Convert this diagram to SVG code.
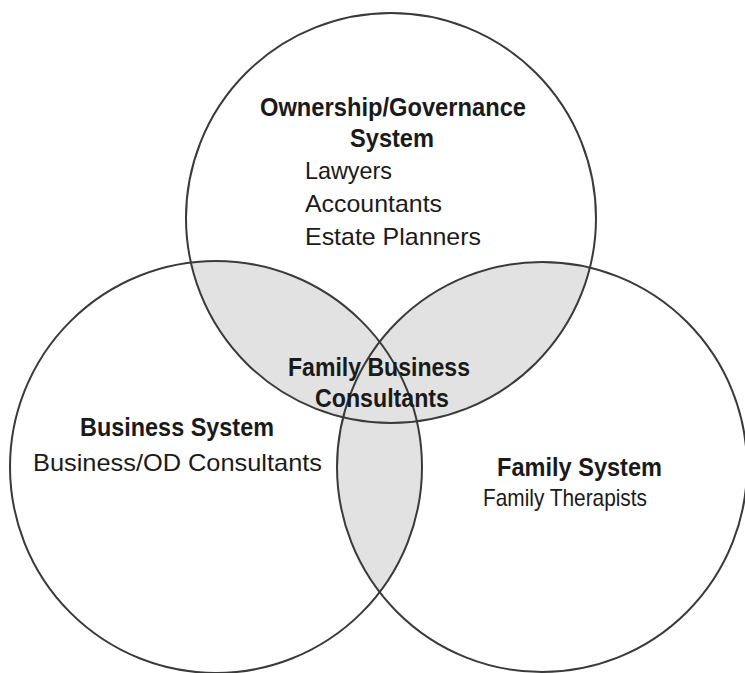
<svg xmlns="http://www.w3.org/2000/svg" width="745" height="673" viewBox="0 0 745 673">
<style>
.ring{fill:none;stroke:#3a3a3a;stroke-width:2}
.shade{fill:#e2e2e2}
.b{font-family:"Liberation Sans",Arial,sans-serif;font-weight:bold;font-size:25px;fill:#1a1a1a}
.r{font-family:"Liberation Sans",Arial,sans-serif;font-size:24px;fill:#1a1a1a}
</style>
<defs>
<clipPath id="cL"><circle cx="216" cy="467" r="206"/></clipPath>
<clipPath id="cR"><circle cx="542" cy="467" r="205"/></clipPath>
</defs>
<rect width="745" height="673" fill="#ffffff"/>
<g id="overlaps">
<circle class="shade" cx="391" cy="218" r="205" clip-path="url(#cL)"/>
<circle class="shade" cx="391" cy="218" r="205" clip-path="url(#cR)"/>
<circle class="shade" cx="216" cy="467" r="206" clip-path="url(#cR)"/>
</g>
<g id="ownership">
<circle class="ring" cx="391" cy="218" r="205"/>
<text class="b" x="260" y="116" textLength="266" lengthAdjust="spacingAndGlyphs">Ownership/Governance</text>
<text class="b" x="350" y="147" textLength="84" lengthAdjust="spacingAndGlyphs">System</text>
<text class="r" x="305" y="179" textLength="87" lengthAdjust="spacingAndGlyphs">Lawyers</text>
<text class="r" x="305" y="212" textLength="137" lengthAdjust="spacingAndGlyphs">Accountants</text>
<text class="r" x="305" y="245" textLength="176" lengthAdjust="spacingAndGlyphs">Estate Planners</text>
</g>
<g id="business">
<circle class="ring" cx="216" cy="467" r="206"/>
<text class="b" x="80" y="436" textLength="194" lengthAdjust="spacingAndGlyphs">Business System</text>
<text class="r" x="33" y="471" textLength="289" lengthAdjust="spacingAndGlyphs">Business/OD Consultants</text>
</g>
<g id="family">
<circle class="ring" cx="542" cy="467" r="205"/>
<text class="b" x="497" y="476" textLength="165" lengthAdjust="spacingAndGlyphs">Family System</text>
<text class="r" x="483" y="506" textLength="164" lengthAdjust="spacingAndGlyphs">Family Therapists</text>
</g>
<g id="center">
<text class="b" x="288" y="376" textLength="182" lengthAdjust="spacingAndGlyphs">Family Business</text>
<text class="b" x="315" y="407" textLength="134" lengthAdjust="spacingAndGlyphs">Consultants</text>
</g>
</svg>
